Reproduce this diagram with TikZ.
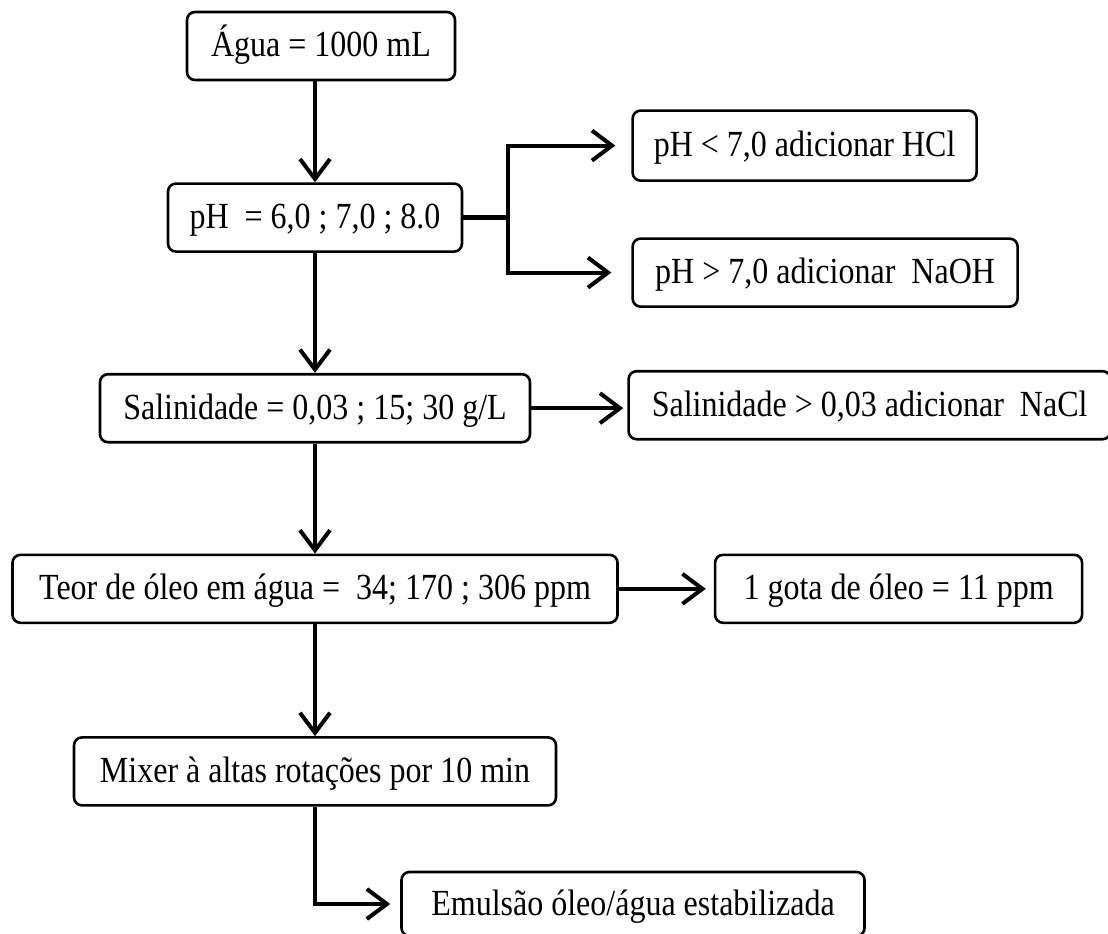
\documentclass[tikz,border=0pt]{standalone}
\usepackage{fontspec}
\setmainfont{Liberation Serif}
\usetikzlibrary{positioning,arrows.meta,calc}
\newcommand{\tallt}[1]{\scalebox{1}[1.15]{#1}}

\begin{document}
\begin{tikzpicture}[
  font=\fontsize{16bp}{19bp}\selectfont,
  stepbox/.style={draw, rounded corners=4bp, line width=1.3bp, minimum height=34bp,
    text height=14bp, text depth=3bp, inner xsep=8bp, inner ysep=6bp, align=center},
  flow/.style={-{Straight Barb[length=10bp, width=15bp, line width=2bp]}, line width=2bp, black},
  link/.style={line width=2.6bp, black},
]
\useasboundingbox (0,0) rectangle (554bp,-467bp);
% ---- main column ----
\node[stepbox, minimum width=134bp] (agua) at (160.5bp,-23bp) {\tallt{Água = 1000 mL}};
\node[stepbox, minimum width=147bp, below=50.5bp of agua, xshift=-3bp] (ph)
  {\tallt{pH~ = 6,0 ; 7,0 ; 8.0}};
\node[stepbox, minimum width=215bp, below=60bp of ph] (sal)
  {\tallt{Salinidade = 0,03 ; 15; 30 g/L}};
\node[stepbox, minimum width=302.5bp, below=55bp of sal] (teor)
  {\tallt{Teor de óleo em água =~ 34; 170 ; 306 ppm}};
\node[stepbox, minimum width=241bp, below=56bp of teor] (mixer)
  {\tallt{Mixer à altas rotações por 10 min}};
\node[stepbox, minimum width=231.5bp, minimum height=32bp, below=32bp of mixer, xshift=159bp] (emul)
  {\tallt{Emulsão óleo/água estabilizada}};
% ---- side boxes ----
\node[stepbox, minimum width=172bp, minimum height=35bp, right=84bp of ph, yshift=36bp] (hcl)
  {\tallt{pH < 7,0 adicionar HCl}};
\node[stepbox, minimum width=192.5bp, right=84bp of ph, yshift=-27.5bp] (naoh)
  {\tallt{pH > 7,0 adicionar~ NaOH}};
\node[stepbox, minimum width=241bp, right=48bp of sal, yshift=1.5bp] (nacl)
  {\tallt{Salinidade > 0,03 adicionar~ NaCl}};
\node[stepbox, minimum width=183.5bp, right=47.5bp of teor] (gota)
  {\tallt{1 gota de óleo = 11 ppm}};
% ---- arrows ----
\coordinate[right=22.5bp of ph] (fork);
\draw[link] (ph.east) -- (fork);
\draw[flow, shorten >=8bp] (fork) |- (hcl.west);
\draw[flow, shorten >=10bp] (fork) |- (naoh.west);
\draw[flow] (ph.north |- agua.south) -- (ph.north);
\draw[flow] (ph) -- (sal);
\draw[flow, shorten >=2bp] (sal.east) -- (sal.east -| nacl.west);
\draw[flow] (sal) -- (teor);
\draw[flow, shorten >=4bp] (teor) -- (gota);
\draw[flow] (teor) -- (mixer);
\draw[flow, shorten >=5bp] (mixer.south) |- (emul.west);
\end{tikzpicture}
\end{document}
